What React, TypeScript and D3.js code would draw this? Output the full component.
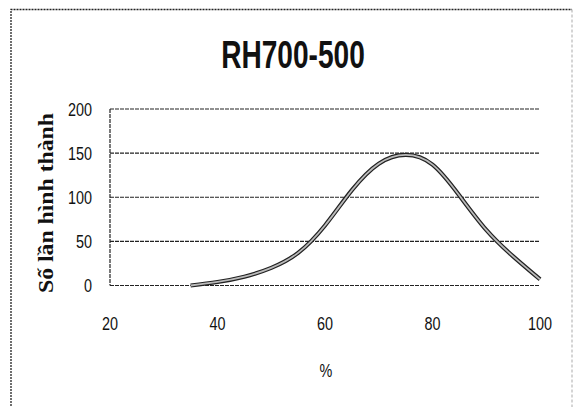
import * as d3 from 'd3';
import { useEffect, useRef } from 'react';

const title = 'RH700-500';
const yTitle = 'Số lần hình thành';
const xTitle = '%';

const xTicks = [20, 40, 60, 80, 100];
const yTicks = [0, 50, 100, 150, 200];

// humidity (%) vs number of occurrences
const humidity = [35, 40, 45, 50, 55, 60, 65, 70, 75, 80, 85, 90, 95, 100];
const counts = [0, 4, 10, 20, 37, 68, 108, 138, 148, 137, 102, 63, 33, 7];

export default function App() {
  const svgRef = useRef<SVGSVGElement>(null);

  useEffect(() => {
    const svg = d3.select(svgRef.current);
    svg.selectAll('*').remove();

    const W = 573;
    const H = 407;
    const font = '"Liberation Sans", Arial, sans-serif';

    const x = d3.scaleLinear().domain([20, 100]).range([110, 540]);
    const y = d3.scaleLinear().domain([0, 200]).range([285.5, 109]);

    svg.append('rect').attr('width', W).attr('height', H).attr('fill', '#fff');

    // outer chart border
    svg.append('path')
      .attr('d', `M11,${H + 2} V9.5 H572`)
      .attr('fill', 'none')
      .attr('stroke', '#222')
      .attr('stroke-width', 1.3)
      .attr('stroke-dasharray', '2 1');
    svg.append('line')
      .attr('x1', 572).attr('x2', 572)
      .attr('y1', 9.5).attr('y2', H)
      .attr('stroke', '#aaa')
      .attr('stroke-dasharray', '3 2');

    // condensed look: squeeze horizontally
    svg.append('text')
      .attr('transform', 'translate(293,68) scale(0.74,1)')
      .attr('text-anchor', 'middle')
      .attr('font-family', font)
      .attr('font-weight', 'bold')
      .attr('font-size', 38)
      .attr('fill', '#111')
      .text(title);

    // gridlines
    svg.append('g')
      .selectAll('line')
      .data(yTicks)
      .join('line')
      .attr('x1', x(20)).attr('x2', x(100))
      .attr('y1', d => y(d)).attr('y2', d => y(d))
      .attr('stroke', '#222')
      .attr('stroke-width', 1.2)
      .attr('stroke-dasharray', '4 1');

    svg.append('line')
      .attr('x1', x(20)).attr('x2', x(20))
      .attr('y1', y(200)).attr('y2', y(0))
      .attr('stroke', '#222')
      .attr('stroke-width', 1.2)
      .attr('stroke-dasharray', '4 1');

    svg.append('g')
      .selectAll('text')
      .data(yTicks)
      .join('text')
      .attr('transform', d => `translate(92,${y(d) + 6.5}) scale(0.8,1)`)
      .attr('text-anchor', 'end')
      .attr('font-family', font)
      .attr('font-size', 18)
      .attr('fill', '#111')
      .text(d => d);

    svg.append('g')
      .selectAll('text')
      .data(xTicks)
      .join('text')
      .attr('transform', d => `translate(${x(d)},330) scale(0.8,1)`)
      .attr('text-anchor', 'middle')
      .attr('font-family', font)
      .attr('font-size', 18)
      .attr('fill', '#111')
      .text(d => d);

    svg.append('text')
      .attr('transform', 'translate(326,377) scale(0.8,1)')
      .attr('text-anchor', 'middle')
      .attr('font-family', font)
      .attr('font-size', 18)
      .attr('fill', '#111')
      .text(xTitle);

    svg.append('text')
      .attr('transform', 'translate(53,203) rotate(-90)')
      .attr('text-anchor', 'middle')
      .attr('font-family', '"Liberation Serif", serif')
      .attr('font-weight', 'bold')
      .attr('font-size', 22)
      .attr('textLength', 180)
      .attr('lengthAdjust', 'spacingAndGlyphs')
      .attr('fill', '#111')
      .text(yTitle);

    const pts = humidity.map((h, i) => [h, counts[i]] as [number, number]);
    const line = d3.line<[number, number]>()
      .x(d => x(d[0]))
      .y(d => y(d[1]))
      .curve(d3.curveNatural);

    svg.append('path')
      .datum(pts)
      .attr('fill', 'none')
      .attr('stroke', '#222')
      .attr('stroke-width', 4.2)
      .attr('d', line);
    svg.append('path')
      .datum(pts)
      .attr('fill', 'none')
      .attr('stroke', '#bbb')
      .attr('stroke-width', 1.8)
      .attr('d', line);
  }, []);

  return (
    <svg
      ref={svgRef}
      width={573}
      height={407}
      viewBox="0 0 573 407"
      style={{ position: 'absolute', left: 0, top: 0, display: 'block' }}
    />
  );
}
